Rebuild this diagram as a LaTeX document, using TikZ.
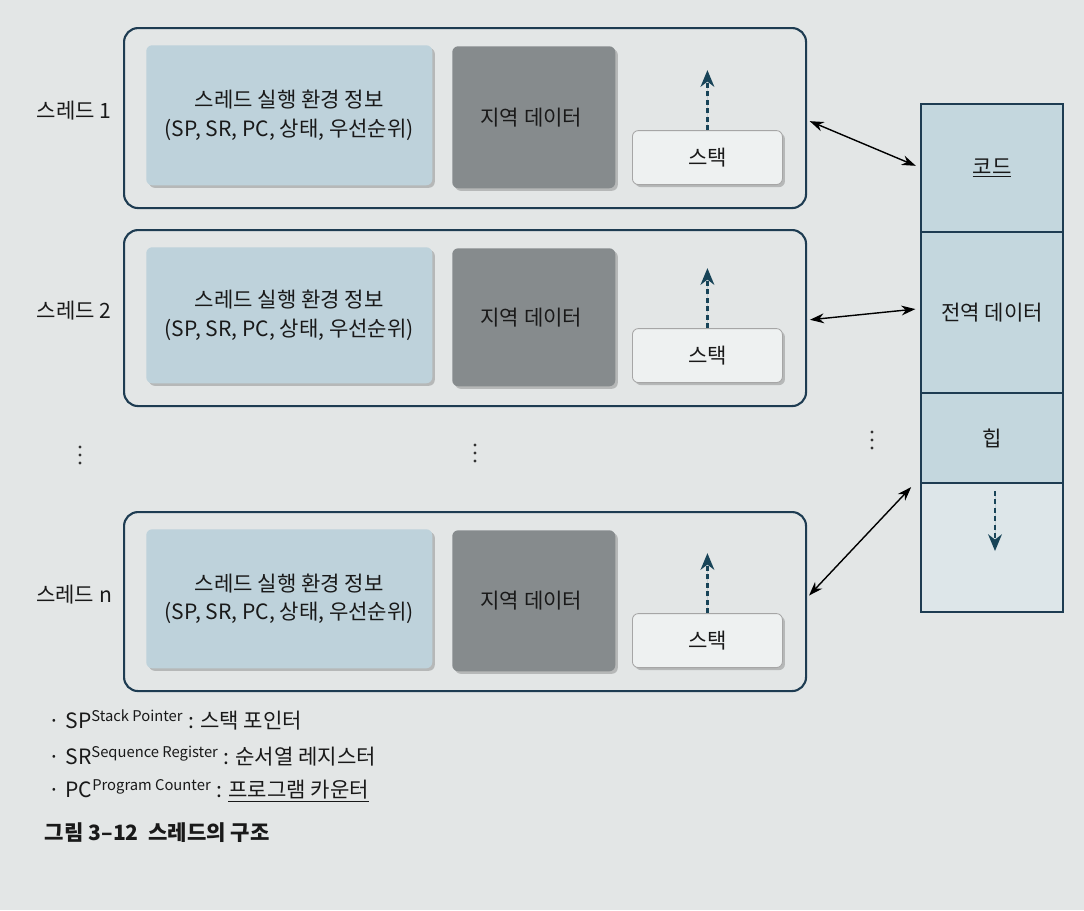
\documentclass[tikz,border=0pt]{standalone}
\usepackage{fontspec}
\setmainfont{Noto Sans CJK KR}
\usepackage{tikz}
\usetikzlibrary{shapes,arrows,arrows.meta,positioning,shadows}
\newdimen\pxu \pxu=0.025cm
\definecolor{pagebg}{RGB}{227,230,230}
\definecolor{navy}{RGB}{30,60,82}
\definecolor{infoblue}{RGB}{190,210,219}
\definecolor{localgray}{RGB}{134,139,141}
\definecolor{stackwhite}{RGB}{238,241,241}
\definecolor{cellblue}{RGB}{196,215,222}
\definecolor{freecell}{RGB}{221,230,233}
\definecolor{darkteal}{RGB}{24,68,88}
\tikzset{
	threadbox/.style = {shape=rectangle, rounded corners=14*\pxu,
		draw=navy, line width=1.5pt, anchor=north west},
	infobox/.style   = {shape=rectangle, rounded corners=6*\pxu, fill=infoblue,
		align=center, anchor=north west,
		drop shadow={shadow xshift=1.8pt, shadow yshift=-1.8pt, opacity=.45}},
	localbox/.style  = {infobox, fill=localgray},
	stackbox/.style  = {infobox, fill=stackwhite, draw=black!35, line width=.6pt},
	cell/.style      = {shape=rectangle, draw=navy, line width=1.5pt, fill=cellblue,
		minimum width=142*\pxu, outer sep=0pt},
	tlabel/.style    = {anchor=center},
	legend/.style    = {anchor=west},
	growarrow/.style = {-{Stealth[length=12pt, width=10pt, line width=0pt]}, draw=darkteal, fill=darkteal,
		line width=2pt, dash pattern=on 3.5pt off 2.5pt},
	link/.style      = {{Stealth[length=10pt, width=7pt]}-{Stealth[length=10pt, width=7pt]},
		line width=1pt, shorten <=2pt, shorten >=4pt},
}

\begin{document}
\begin{tikzpicture}
[
x = \pxu,
y = -\pxu,
every node/.style = {font=\fontsize{15}{20}\selectfont, text=black!90}
]
\fill[pagebg] (0,0) rectangle (1084,910);
\useasboundingbox (0,0) rectangle (1084,910);

\foreach \name/\ytop/\hgt in {1/27/180, 2/229/176, n/511/179}{
	\node [threadbox, minimum width=682*\pxu, minimum height=\hgt*\pxu] (th\name) at (123,\ytop) {};
	\node [infobox, minimum width=286*\pxu, minimum height=(\hgt-40)*\pxu] (info\name) at (146,\ytop+18) {
		스레드 실행 환경 정보\\(SP, SR, PC, 상태, 우선순위)
	};
	\node [localbox, minimum width=163*\pxu, minimum height=(\hgt-38)*\pxu] (local\name) at (452,\ytop+19) {
		지역 데이터
	};
	\node [stackbox, anchor=south west, minimum width=150*\pxu, minimum height=54*\pxu] (stack\name) at (632,\ytop+\hgt-22) {스택};
	\draw [growarrow] (stack\name.north) -- ++(0,-60);
	\node [tlabel] (lab\name) at (74,\ytop+\hgt/2-6) {스레드 \name};
}

% shared part of the process
\node [cell, anchor=north west, minimum height=128*\pxu] (code) at (921,104) {\underline{코드}};
\node [cell, below=0pt of code, minimum height=161*\pxu] (global) {전역 데이터};
\node [cell, below=0pt of global, minimum height=90*\pxu] (heap) {힙};
\node [cell, below=0pt of heap, fill=freecell, minimum height=129*\pxu] (free) {};
\draw [growarrow] ([xshift=3*\pxu, yshift=-8*\pxu]free.north) -- ++(0,60);

\draw [link] ([yshift=-2*\pxu]th1.east) -- (code.west);
\draw [link] ([yshift=-2*\pxu]th2.east) -- ([yshift=4*\pxu]global.west);
\draw [link] ([yshift=4*\pxu]thn.east) -- ([xshift=-6*\pxu]heap.south west);

\coordinate (dots1) at (80,455);
\coordinate (dots2) at (475,453);
\coordinate (dots3) at (872,440);
\foreach \d in {dots1, dots2, dots3}
	\foreach \k in {-1, 0, 1}
		\fill [black!80] (\d) ++(0,\k*8) circle (1.2pt);

\node [legend] (sp) at (44,720) {· SP\textsuperscript{Stack Pointer} : 스택 포인터};
\node [legend] (sr) at (44,756) {· SR\textsuperscript{Sequence Register} : 순서열 레지스터};
\node [legend] (pc) at (44,791) {· PC\textsuperscript{Program Counter} : \underline{프로그램 카운터}};
\node [legend, font=\fontsize{15}{20}\selectfont\bfseries] (caption) at (40,833) {그림 3–12\ \ 스레드의 구조};
\end{tikzpicture}
\end{document}
